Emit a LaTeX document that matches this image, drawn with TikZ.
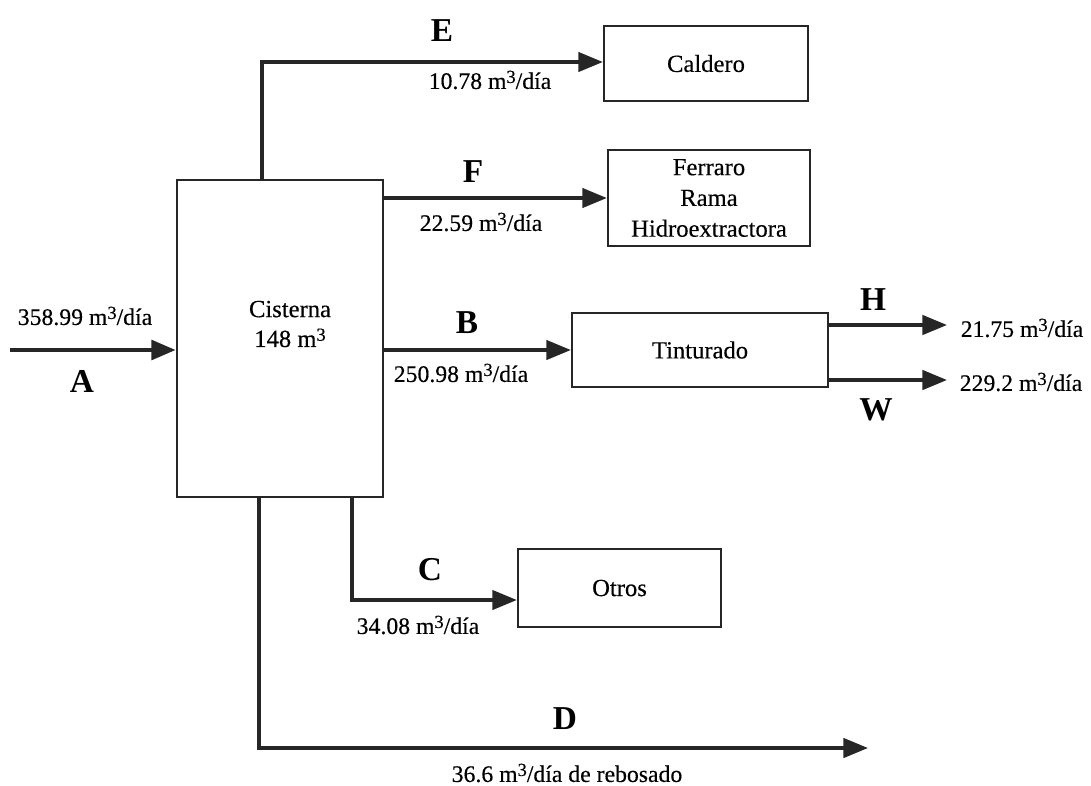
\documentclass[tikz,border=0pt]{standalone}
\usepackage{fontspec}
\setmainfont{Liberation Serif}
\newfontfamily\heavy[FakeBold=0.35]{Liberation Serif}
\usetikzlibrary{arrows.meta}
\newcommand\mcub{m\raisebox{0.55ex}{\fontsize{10.5}{12}\selectfont 3}}
\begin{document}
\begin{tikzpicture}[x=0.02cm,y=-0.02cm,
  box/.style={draw=black!85,line width=1.3pt,inner sep=0pt,align=center,font=\heavy\fontsize{14}{17.5}\selectfont},
  flow/.style={draw=black!85,line width=2pt,-{Triangle[length=14pt,width=11pt]}},
  flowA/.style={draw=black!85,line width=2.8pt,-{Triangle[length=14pt,width=11pt]}},
  lab/.style={font=\heavy\fontsize{13.5}{16}\selectfont,inner sep=0pt},
  let/.style={font=\fontsize{19}{21}\bfseries\selectfont,inner sep=0pt}]
\useasboundingbox (0,0) rectangle (1091,785);
% boxes
\node[box,minimum width=206*0.02cm,minimum height=317*0.02cm] (cis) at (280,338.5) {};
\node[lab,align=center,font=\heavy\fontsize{14}{16}\selectfont] (cistxt) at (290,324) {Cisterna\\[1pt]148 \mcub};
\node[box,minimum width=204*0.02cm,minimum height=75*0.02cm] (cal) at (706,63.5) {Caldero};
\node[box,minimum width=202*0.02cm,minimum height=96*0.02cm] (fer) at (709,198) {Ferraro\\Rama\\Hidroextractora};
\node[box,minimum width=256*0.02cm,minimum height=74*0.02cm] (tin) at (700,350) {Tinturado};
\node[box,minimum width=203*0.02cm,minimum height=78*0.02cm] (otr) at (619.5,588) {Otros};
% coordinates
\coordinate (a0) at (10,350);
\coordinate (e0) at (262,180);
\coordinate (eC) at (262,62);
\coordinate (f0) at (383,198);
\coordinate (b0) at (383,350);
\coordinate (h0) at (828,325);
\coordinate (h1) at (947,325);
\coordinate (w0) at (828,380);
\coordinate (w1) at (947,380);
\coordinate (c0) at (352,497);
\coordinate (cC) at (352,600);
\coordinate (d0) at (259,497);
\coordinate (dC) at (259,748);
\coordinate (d1) at (868,748);
% flows
\draw[flowA] (a0) -- (a0 -| cis.west);
\draw[flow] (e0) -- (eC) -- (eC -| cal.west);
\draw[flow] (f0) -- (f0 -| fer.west);
\draw[flow] (b0) -- (b0 -| tin.west);
\draw[flow] (h0) -- (h1);
\draw[flow] (w0) -- (w1);
\draw[flow] (c0) -- (cC) -- (cC -| otr.west);
\draw[flow] (d0) -- (dC) -- (d1);
% labels
\node[lab] (la) at (85,316) {358.99 \mcub/día};
\node[let] (LA) at (82,381) {A};
\node[let] (LE) at (442,31) {E};
\node[lab] (le) at (490,80) {10.78 \mcub/día};
\node[let] (LF) at (473,172) {F};
\node[lab] (lf) at (481,222) {22.59 \mcub/día};
\node[let] (LB) at (467,323) {B};
\node[lab] (lb) at (461,373) {250.98 \mcub/día};
\node[let] (LH) at (873,300) {H};
\node[lab] (lh) at (1022,328) {21.75 \mcub/día};
\node[let] (LW) at (876,410) {W};
\node[lab] (lw) at (1021,382) {229.2 \mcub/día};
\node[let] (LC) at (430,570) {C};
\node[lab] (lc) at (418,625) {34.08 \mcub/día};
\node[let] (LD) at (565,719) {D};
\node[lab] (ld) at (567,773) {36.6 \mcub/día de rebosado};
\end{tikzpicture}
\end{document}
